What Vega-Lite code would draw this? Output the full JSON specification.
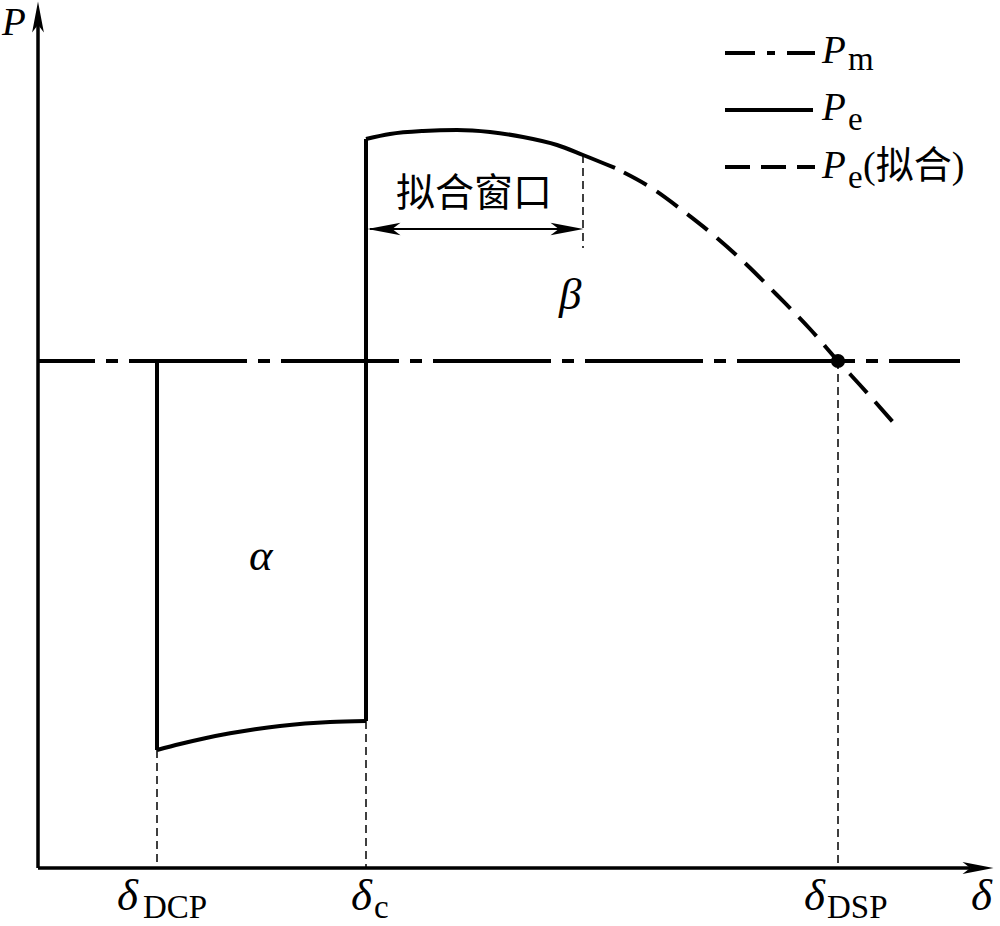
{
 "$schema": "https://vega.github.io/schema/vega-lite/v6.json",
 "width": 1000, "height": 926, "padding": 0,
 "autosize": {"type": "fit", "contains": "padding"},
 "background": "white",
 "config": {"view": {"stroke": null}},
 "encoding": {
  "x": {"field": "x", "type": "quantitative", "scale": {"domain": [-38, 962], "nice": false, "zero": false}, "axis": null},
  "y": {"field": "y", "type": "quantitative", "scale": {"domain": [-58, 868], "nice": false, "zero": false}, "axis": null}
 },
 "layer": [
  {"data": {"values": [{"x": 0, "y": 0, "x2": 0, "y2": 845}, {"x": 0, "y": 0, "x2": 932, "y2": 0}]},
   "mark": {"type": "rule", "strokeWidth": 3.5, "color": "black"},
   "encoding": {"x2": {"field": "x2"}, "y2": {"field": "y2"}}},
  {"data": {"values": [{"x": 0, "y": 851, "dir": "up"}, {"x": 940, "y": 0, "dir": "right"}]},
   "mark": {"type": "point", "filled": true, "color": "black", "size": 961, "opacity": 1, "strokeWidth": 0},
   "encoding": {"shape": {"field": "dir", "type": "nominal", "scale": {"domain": ["up", "right", "left"], "range": ["M0,-1L0.38,1L0,0.5L-0.38,1Z", "M1,0L-1,-0.38L-0.5,0L-1,0.38Z", "M-1,0L1,-0.38L0.5,0L1,0.38Z"]}, "legend": null}}},
  {"data": {"values": [{"x": 346, "y": 639, "dir": "left"}, {"x": 529, "y": 639, "dir": "right"}]},
   "mark": {"type": "point", "filled": true, "color": "black", "size": 1089, "opacity": 1, "strokeWidth": 0},
   "encoding": {"shape": {"field": "dir", "type": "nominal", "legend": null}}},
  {"data": {"values": [{"x": 0, "y": 507, "x2": 922, "y2": 507}]},
   "mark": {"type": "rule", "strokeWidth": 4, "color": "black", "strokeDash": [118, 11, 12, 11], "strokeDashOffset": 61},
   "encoding": {"x2": {"field": "x2"}, "y2": {"field": "y2"}}},
  {"data": {"values": [{"x": 119, "y": 507, "x2": 119, "y2": 118}, {"x": 328, "y": 147, "x2": 328, "y2": 729}]},
   "mark": {"type": "rule", "strokeWidth": 4, "color": "black"},
   "encoding": {"x2": {"field": "x2"}, "y2": {"field": "y2"}}},
  {"data": {"values": [
    {"seg": "low", "x": 119, "y": 118}, {"seg": "low", "x": 142, "y": 124}, {"seg": "low", "x": 167, "y": 129.8}, {"seg": "low", "x": 192, "y": 134.7},
    {"seg": "low", "x": 217, "y": 138.8}, {"seg": "low", "x": 242, "y": 142.1}, {"seg": "low", "x": 267, "y": 144.5}, {"seg": "low", "x": 292, "y": 146.1},
    {"seg": "low", "x": 328, "y": 147},
    {"seg": "up", "x": 328, "y": 729}, {"seg": "up", "x": 352, "y": 734}, {"seg": "up", "x": 385, "y": 737}, {"seg": "up", "x": 419, "y": 738},
    {"seg": "up", "x": 452, "y": 736}, {"seg": "up", "x": 485, "y": 731}, {"seg": "up", "x": 519, "y": 723}, {"seg": "up", "x": 545, "y": 713},
    {"seg": "up", "x": 577, "y": 700}]},
   "mark": {"type": "line", "strokeWidth": 4, "color": "black", "interpolate": "monotone"},
   "encoding": {"detail": {"field": "seg"}}},
  {"data": {"values": [
    {"x": 577, "y": 700}, {"x": 612, "y": 681}, {"x": 649, "y": 654}, {"x": 679, "y": 630}, {"x": 709, "y": 603},
    {"x": 739, "y": 573}, {"x": 772, "y": 539}, {"x": 800, "y": 507}, {"x": 822, "y": 483}, {"x": 862, "y": 438}]},
   "mark": {"type": "line", "strokeWidth": 4, "color": "black", "interpolate": "monotone", "strokeDash": [26, 12], "strokeDashOffset": 28},
   "encoding": {}},
  {"data": {"values": [{"x": 119, "y": 118, "x2": 119, "y2": 0}, {"x": 328, "y": 147, "x2": 328, "y2": 0}, {"x": 545, "y": 713, "x2": 545, "y2": 620}, {"x": 800, "y": 507, "x2": 800, "y2": 0}]},
   "mark": {"type": "rule", "strokeWidth": 1.5, "color": "black", "strokeDash": [8, 5]},
   "encoding": {"x2": {"field": "x2"}, "y2": {"field": "y2"}}},
  {"data": {"values": [{"x": 332, "y": 639, "x2": 540, "y2": 639}]},
   "mark": {"type": "rule", "strokeWidth": 1.8, "color": "black"},
   "encoding": {"x2": {"field": "x2"}, "y2": {"field": "y2"}}},
  {"data": {"values": [{"x": 800, "y": 507}]},
   "mark": {"type": "point", "filled": true, "color": "black", "size": 200, "opacity": 1},
   "encoding": {}},
  {"data": {"values": [{"x": 687, "y": 815, "x2": 777, "y2": 815}]},
   "mark": {"type": "rule", "strokeWidth": 4, "color": "black", "strokeDash": [30, 12, 8, 12]},
   "encoding": {"x2": {"field": "x2"}, "y2": {"field": "y2"}}},
  {"data": {"values": [{"x": 687, "y": 758, "x2": 775, "y2": 758}]},
   "mark": {"type": "rule", "strokeWidth": 4, "color": "black"},
   "encoding": {"x2": {"field": "x2"}, "y2": {"field": "y2"}}},
  {"data": {"values": [{"x": 687, "y": 701, "x2": 777, "y2": 701}]},
   "mark": {"type": "rule", "strokeWidth": 4, "color": "black", "strokeDash": [25, 11]},
   "encoding": {"x2": {"field": "x2"}, "y2": {"field": "y2"}}},
  {"data": {"values": [{"x": -36, "y": 833, "t": "P"}, {"x": 784, "y": 805, "t": "P"}, {"x": 784, "y": 748, "t": "P"}, {"x": 784, "y": 690, "t": "P"}]},
   "mark": {"type": "text", "font": "Liberation Serif", "fontStyle": "italic", "fontSize": 39, "align": "left", "baseline": "alphabetic", "color": "black"},
   "encoding": {"text": {"field": "t"}}},
  {"data": {"values": [{"x": 79, "y": -42, "t": "δ"}, {"x": 313, "y": -42, "t": "δ"}, {"x": 766, "y": -42, "t": "δ"}, {"x": 933, "y": -42, "t": "δ"}, {"x": 211, "y": 298, "t": "α"}, {"x": 521, "y": 559, "t": "β"}]},
   "mark": {"type": "text", "font": "Liberation Serif", "fontStyle": "italic", "fontSize": 45, "align": "left", "baseline": "alphabetic", "color": "black"},
   "encoding": {"text": {"field": "t"}}},
  {"data": {"values": [{"x": 810, "y": 798, "t": "m"}, {"x": 810, "y": 738, "t": "e"}, {"x": 810, "y": 680, "t": "e"}, {"x": 105, "y": -50, "t": "DCP"}, {"x": 336, "y": -50, "t": "c"}, {"x": 789, "y": -50, "t": "DSP"}]},
   "mark": {"type": "text", "font": "Liberation Serif", "fontSize": 33, "align": "left", "baseline": "alphabetic", "color": "black"},
   "encoding": {"text": {"field": "t"}}},
  {"data": {"values": [{"x": 825, "y": 690, "t": "(拟合)"}]},
   "mark": {"type": "text", "font": "Liberation Serif, Noto Sans CJK SC", "fontSize": 38, "align": "left", "baseline": "alphabetic", "color": "black"},
   "encoding": {"text": {"field": "t"}}},
  {"data": {"values": [{"x": 436, "y": 674, "t": "拟合窗口"}]},
   "mark": {"type": "text", "font": "Noto Sans CJK SC", "fontSize": 39, "align": "center", "baseline": "middle", "color": "black"},
   "encoding": {"text": {"field": "t"}}}
 ]
}
